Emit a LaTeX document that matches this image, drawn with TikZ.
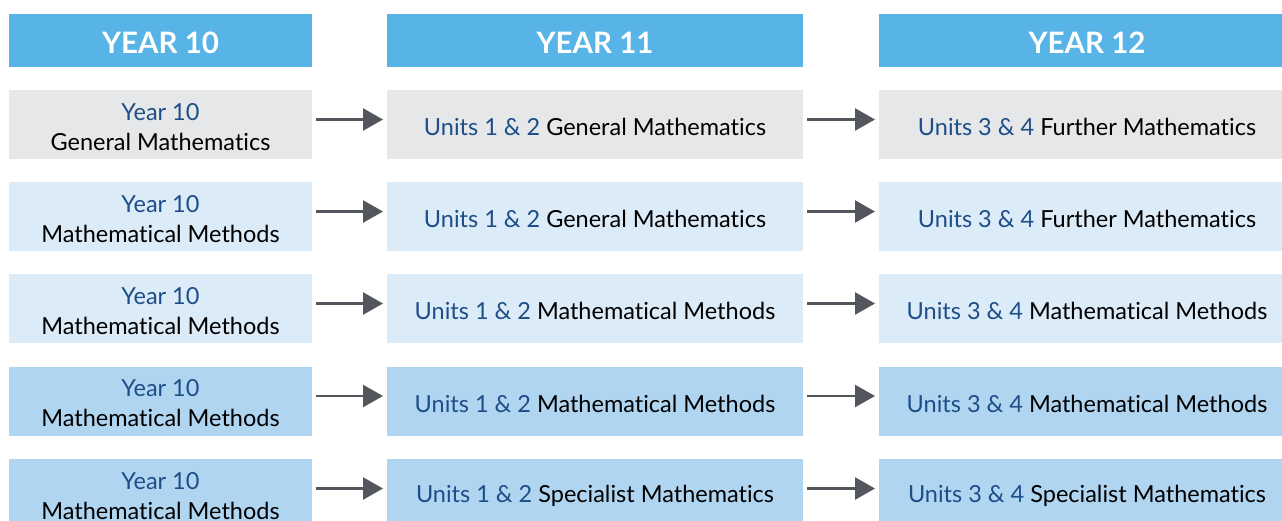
\documentclass[tikz,border=0pt]{standalone}
\usepackage{fontspec}
\setmainfont[Ligatures={NoCommon}]{Lato}
\usetikzlibrary{arrows.meta}
\definecolor{hdr}{RGB}{88,180,230}
\definecolor{grayb}{RGB}{230,231,232}
\definecolor{lightb}{RGB}{220,235,248}
\definecolor{midb}{RGB}{176,213,241}
\definecolor{bluetxt}{RGB}{29,78,137}
\definecolor{arrowc}{RGB}{84,86,94}
\newcommand{\bt}[1]{\textcolor{bluetxt}{#1}}
\tikzset{
  lbl/.style={inner sep=0pt, align=center, text=black, yshift=-2.5pt,
    font={\fontsize{23.5}{30}\selectfont}},
  hlbl/.style={inner sep=0pt, align=center, text=white, yshift=-2pt,
    font={\fontsize{29.5}{30}\selectfont\bfseries}},
  cell/.style={inner sep=0pt, outer sep=0pt, label={[lbl]center:{#1}}},
  colA/.style={cell=#1, minimum width=303pt, minimum height=69pt},
  colB/.style={cell=#1, minimum width=416pt, minimum height=69pt},
  hdr/.style={inner sep=0pt, outer sep=0pt, fill=hdr, minimum height=53pt, label={[hlbl]center:{#1}}},
  hdrA/.style={hdr=#1, minimum width=303pt},
  hdrB/.style={hdr=#1, minimum width=416pt},
  flow/.style={draw=arrowc, line width=2.4pt, -{Triangle[length=20pt,width=22pt]}, shorten <=4pt, shorten >=4pt}
}
\begin{document}
\begin{tikzpicture}[x=1pt,y=-1pt]
\useasboundingbox (0,0) rectangle (1282,520);
\clip (0,0) rectangle (1282,520);
% headers
\node[hdrA={YEAR 10}] (h1) at (160.5,40.5) {};
\node[hdrB={YEAR 11}] (h2) at (595,40.5) {};
\node[hdrB={YEAR 12}] (h3) at (1087,40.5) {};
% row 1
\node[colA={\bt{Year 10}\\General Mathematics}, fill=grayb] (a1) at (160.5,124.5) {};
\node[colB={\bt{Units 1 \& 2} General Mathematics}, fill=grayb] (b1) at (595,124.5) {};
\node[colB={\bt{Units 3 \& 4} Further Mathematics}, fill=grayb] (c1) at (1087,124.5) {};
% row 2
\node[colA={\bt{Year 10}\\Mathematical Methods}, fill=lightb] (a2) at (160.5,216.5) {};
\node[colB={\bt{Units 1 \& 2} General Mathematics}, fill=lightb] (b2) at (595,216.5) {};
\node[colB={\bt{Units 3 \& 4} Further Mathematics}, fill=lightb] (c2) at (1087,216.5) {};
% row 3
\node[colA={\bt{Year 10}\\Mathematical Methods}, fill=lightb] (a3) at (160.5,308.5) {};
\node[colB={\bt{Units 1 \& 2} Mathematical Methods}, fill=lightb] (b3) at (595,308.5) {};
\node[colB={\bt{Units 3 \& 4} Mathematical Methods}, fill=lightb] (c3) at (1087,308.5) {};
% row 4
\node[colA={\bt{Year 10}\\Mathematical Methods}, fill=midb] (a4) at (160.5,401) {};
\node[colB={\bt{Units 1 \& 2} Mathematical Methods}, fill=midb] (b4) at (595,401) {};
\node[colB={\bt{Units 3 \& 4} Mathematical Methods}, fill=midb] (c4) at (1087,401) {};
% row 5
\node[colA={\bt{Year 10}\\Mathematical Methods}, fill=midb] (a5) at (160.5,493.5) {};
\node[colB={\bt{Units 1 \& 2} Specialist Mathematics}, fill=midb] (b5) at (595,493.5) {};
\node[colB={\bt{Units 3 \& 4} Specialist Mathematics}, fill=midb] (c5) at (1087,493.5) {};
% arrows
\foreach \r in {1,...,5}{
  \draw[flow] ([yshift=5pt]a\r.east) -- ([yshift=5pt]b\r.west);
  \draw[flow] ([yshift=5pt]b\r.east) -- ([yshift=5pt]c\r.west);
}
\end{tikzpicture}
\end{document}
